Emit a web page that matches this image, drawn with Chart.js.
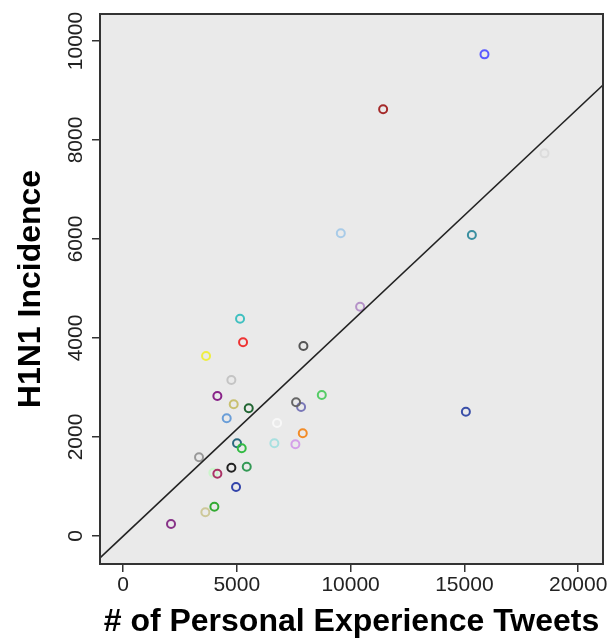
<!DOCTYPE html>
<html>
<head>
<meta charset="utf-8">
<script src="https://cdn.jsdelivr.net/npm/chart.js@4/dist/chart.umd.min.js"></script>
<style>
    body { margin: 0; background: #fff; }
    #wrap { width: 615px; height: 638px; }
</style>
</head>
<body>
<div id="wrap"><canvas id="myScatter" width="615" height="638"></canvas></div>
<script>
// values
const tweets = [15883, 11430, 18521, 9570, 15328, 10418, 7927, 8735, 7825, 7605,
    15065, 7899, 7575, 6652, 6770, 5143, 5275, 3649, 4762, 4147,
    4865, 5525, 4557, 3341, 5011, 5217, 4762, 5437, 3970, 4147,
    4967, 4015, 3619, 2110];
const incidence = [9730, 8619, 7730, 6114, 6080, 4632, 3838, 2848, 2606, 2700,
    2511, 2074, 1852, 1872, 2283, 4390, 3912, 3636, 3151, 2828,
    2660, 2579, 2377, 1589, 1872, 1771, 1380, 1400, 1279, 1259,
    990, 592, 478, 242];
const pointColors = ["#5a5aff", "#a52a2a", "#dcdcdc", "#a8cbe8", "#3a8fa0", "#b592c8", "#555555", "#55cc66", "#7a78b8", "#666666",
    "#3a4fa8", "#f28c28", "#d4a0e8", "#a8e0e0", "#f8f8f8", "#40c0c0", "#ee3333", "#eeee44", "#c4c4c4", "#882288",
    "#c8c070", "#226633", "#6a9ed8", "#999999", "#2a6a80", "#33bb44", "#222222", "#339955", "#ccf5cc", "#aa3366",
    "#3344aa", "#33aa33", "#cdc899", "#883388"];

// fit line ends
const fitX = [-1010, 21090];
const fitY = [-444, 9111];

const xTicks = [0, 5000, 10000, 15000, 20000];
const yTicks = [0, 2000, 4000, 6000, 8000, 10000];

const xTitle = "# of Personal Experience Tweets";
const yTitle = "H1N1 Incidence";

const FONT = "'Liberation Sans', Arial, sans-serif";

const panelPlugin = {
    id: "panel",
    beforeDatasetsDraw(chart) {
        const a = chart.chartArea;
        const ctx = chart.ctx;
        ctx.save();
        ctx.fillStyle = "#eaeaea";
        ctx.fillRect(a.left, a.top, a.right - a.left, a.bottom - a.top);
        ctx.restore();
    },
    afterDraw(chart) {
        const a = chart.chartArea;
        const ctx = chart.ctx;
        ctx.save();
        ctx.strokeStyle = "#333";
        ctx.lineWidth = 2;
        ctx.strokeRect(a.left, a.top, a.right - a.left, a.bottom - a.top);
        ctx.restore();
    }
};

const ctx = document.getElementById("myScatter").getContext("2d");
new Chart(ctx, {
    type: "scatter",
    data: {
        datasets: [
            {
                type: "line",
                data: fitX.map((x, i) => ({ x: x, y: fitY[i] })),
                borderColor: "#222",
                borderWidth: 1.6,
                pointRadius: 0,
                fill: false
            },
            {
                data: tweets.map((x, i) => ({ x: x, y: incidence[i] })),
                pointRadius: 4,
                pointBorderWidth: 2,
                pointBorderColor: pointColors,
                pointBackgroundColor: "rgba(0,0,0,0)",
                pointHoverRadius: 4
            }
        ]
    },
    options: {
        responsive: false,
        animation: false,
        layout: { padding: { top: 14, right: 12, left: 0, bottom: 0 } },
        plugins: {
            legend: { display: false },
            tooltip: { enabled: false }
        },
        scales: {
            x: {
                type: "linear",
                min: -1010,
                max: 21090,
                afterBuildTicks: s => { s.ticks = xTicks.map(v => ({ value: v })); },
                afterFit: s => { s.height = 74; },
                grid: { drawOnChartArea: false, drawTicks: true, tickLength: 8, color: "#333", lineWidth: 1.5 },
                border: { display: true, color: "#333", width: 2 },
                ticks: {
                    padding: 1,
                    maxRotation: 0,
                    autoSkip: false,
                    color: "#222",
                    font: { family: FONT, size: 21 },
                    callback: v => String(v)
                },
                title: {
                    display: true,
                    text: xTitle,
                    color: "#000",
                    padding: 0,
                    font: { family: FONT, size: 32, weight: "bold", lineHeight: 1 }
                }
            },
            y: {
                type: "linear",
                min: -566,
                max: 10545,
                afterBuildTicks: s => { s.ticks = yTicks.map(v => ({ value: v })); },
                afterFit: s => { s.width = 100; },
                grid: { drawOnChartArea: false, drawTicks: true, tickLength: 8, color: "#333", lineWidth: 1.5 },
                border: { display: true, color: "#333", width: 2 },
                ticks: {
                    minRotation: 90,
                    maxRotation: 90,
                    autoSkip: false,
                    crossAlign: "center",
                    padding: -13,
                    color: "#222",
                    font: { family: FONT, size: 21 },
                    callback: v => String(v)
                },
                title: {
                    display: true,
                    text: yTitle,
                    color: "#000",
                    padding: { top: 12, bottom: 0 },
                    font: { family: FONT, size: 32, weight: "bold", lineHeight: 1.2 }
                }
            }
        }
    },
    plugins: [panelPlugin]
});
</script>
</body>
</html>
